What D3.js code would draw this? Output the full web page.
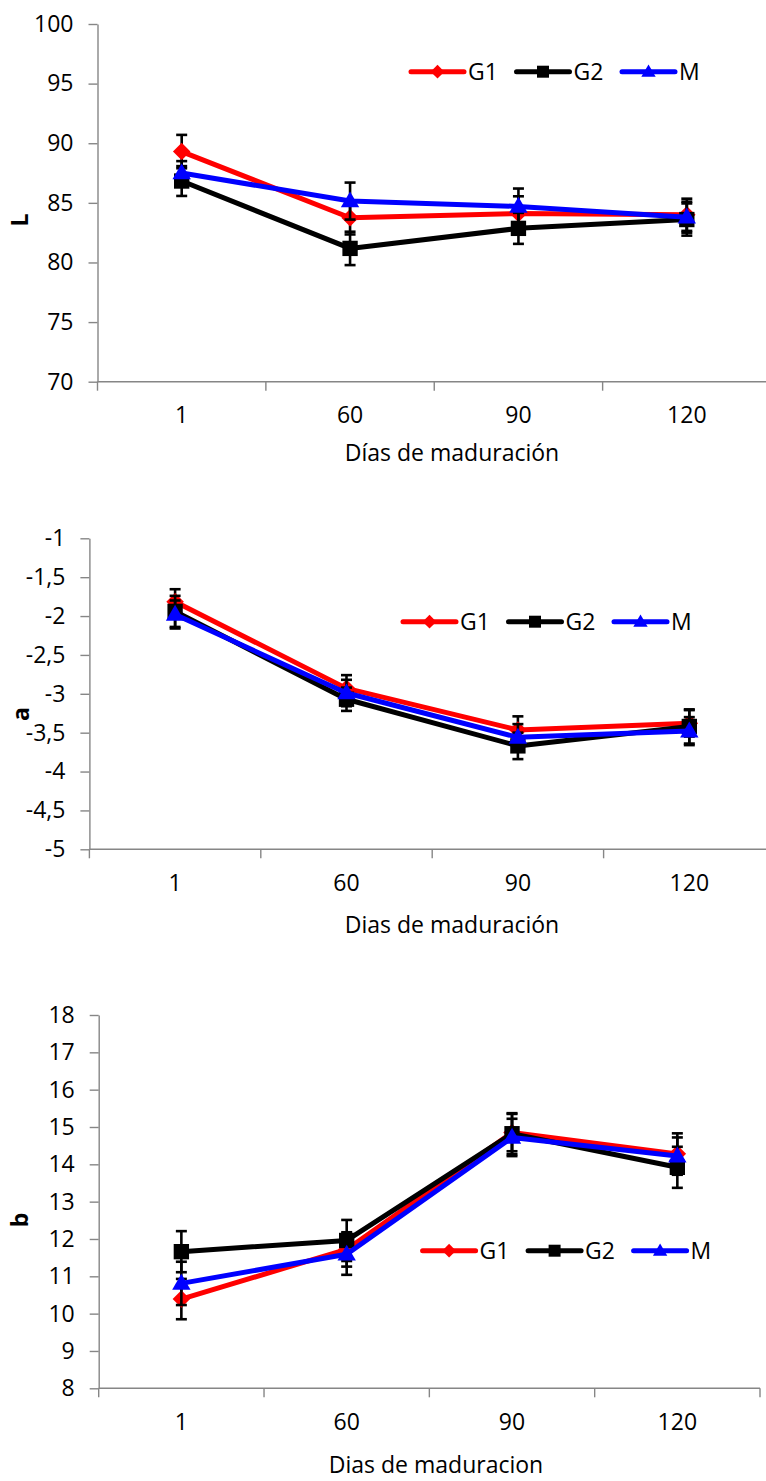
<!DOCTYPE html>
<html>
<head>
<meta charset="utf-8">
<script src="https://cdn.jsdelivr.net/npm/d3@7"></script>
<style>
  body { margin: 0; background: #fff; }
  svg text { font-family: "Open Sans", "Liberation Sans", sans-serif; fill: #000; }
</style>
</head>
<body>
<svg id="chart"></svg>
<script>
// categories (dias de maduracion) and series names
var days = ["1", "60", "90", "120"];
var seriesNames = ["G1", "G2", "M"];

// L
var L_G1 = [89.3, 83.75, 84.1, 84.0];
var L_G2 = [86.83, 81.18, 82.86, 83.6];
var L_M = [87.5, 85.15, 84.7, 83.8];
var L_G1_err = [1.4, 1.4, 1.45, 1.35];
var L_G2_err = [1.25, 1.4, 1.3, 1.35];
var L_M_err = [1.0, 1.55, 1.5, 1.3];

// a
var a_G1 = [-1.815, -2.93, -3.465, -3.38];
var a_G2 = [-1.94, -3.07, -3.67, -3.42];
var a_M = [-1.98, -2.99, -3.56, -3.48];
var a_G1_err = [0.16, 0.17, 0.175, 0.17];
var a_G2_err = [0.2, 0.15, 0.17, 0.22];
var a_M_err = [0.18, 0.17, 0.17, 0.18];

// b
var b_G1 = [10.39, 11.72, 14.85, 14.28];
var b_G2 = [11.66, 11.96, 14.82, 13.92];
var b_M = [10.81, 11.59, 14.72, 14.22];
var b_G1_err = [0.54, 0.46, 0.5, 0.55];
var b_G2_err = [0.55, 0.55, 0.55, 0.55];
var b_M_err = [0.58, 0.55, 0.5, 0.5];

var width = 766, height = 1481;
var fontSize = 23;

var colors = {G1: "#ff0000", G2: "#000000", M: "#0000ff"};
var symbols = {G1: "diamond", G2: "square", M: "triangle"};

var locale = d3.formatLocale({decimal: ",", thousands: ".", grouping: [3], currency: ["", ""], minus: "-"});
var fmt = locale.format("");

var svg = d3.select("#chart")
    .attr("width", width)
    .attr("height", height);

// one entry per chart panel (layout only)
var panels = [
  {title: "L", xTitle: "Días de maduración", domain: [70, 100], step: 5,
   vals: [L_G1, L_G2, L_M], errs: [L_G1_err, L_G2_err, L_M_err],
   x0: 97.5, x1: 771, top: 24, bottom: 381.7,
   titleX: 20, titleY: 220, xTitleX: 452, xTitleY: 453,
   legX: 411, legY: 71.7},
  {title: "a", xTitle: "Dias de maduración", domain: [-5, -1], step: 0.5,
   vals: [a_G1, a_G2, a_M], errs: [a_G1_err, a_G2_err, a_M_err],
   x0: 89.4, x1: 775, top: 538.3, bottom: 849.3,
   titleX: 21, titleY: 714, xTitleX: 452, xTitleY: 925,
   legX: 403, legY: 621.7},
  {title: "b", xTitle: "Dias de maduracion", domain: [8, 18], step: 1,
   vals: [b_G1, b_G2, b_M], errs: [b_G1_err, b_G2_err, b_M_err],
   x0: 98.7, x1: 760, top: 1015, bottom: 1388.3,
   titleX: 20, titleY: 1220, xTitleX: 436, xTitleY: 1465,
   legX: 422.6, legY: 1250.7}
];

function drawMarker(g, kind, cx, cy, s, color) {
  var m = g.append("path").attr("fill", color);
  if (kind == "diamond") {
    m.attr("d", d3.symbol(d3.symbolSquare, s * s * 0.6)())
     .attr("transform", "translate(" + cx + "," + cy + ") rotate(45)");
  } else if (kind == "square") {
    m.attr("d", d3.symbol(d3.symbolSquare, s * s * 0.92)())
     .attr("transform", "translate(" + cx + "," + cy + ")");
  } else {
    var w = s * 1.15;
    m.attr("d", d3.symbol(d3.symbolTriangle, Math.sqrt(3) / 4 * w * w)())
     .attr("transform", "translate(" + cx + "," + (cy + 1) + ")");
  }
}

panels.forEach(function(p) {
  var g = svg.append("g");

  var x = d3.scaleBand().domain(days).range([p.x0, p.x1]).padding(0);
  var y = d3.scaleLinear().domain(p.domain).range([p.bottom, p.top]);
  var cx = function(i) { return x(days[i]) + x.bandwidth() / 2; };

  // y axis
  var yAxis = g.append("g")
      .attr("transform", "translate(" + p.x0 + ",0)")
      .call(d3.axisLeft(y)
        .tickValues(d3.range(p.domain[0], p.domain[1] + p.step / 2, p.step))
        .tickSize(9).tickSizeOuter(0).tickPadding(15)
        .tickFormat(fmt));
  yAxis.select(".domain").attr("stroke", "#868686").attr("stroke-width", 1.4);
  yAxis.selectAll(".tick line").attr("stroke", "#868686").attr("stroke-width", 1.4);
  yAxis.selectAll(".tick text").attr("font-size", fontSize).attr("fill", "#000");

  // x axis: line + ticks at category boundaries, labels centred
  var xAxis = g.append("g")
      .attr("transform", "translate(0," + p.bottom + ")")
      .call(d3.axisBottom(x).tickSize(0).tickPadding(25));
  xAxis.select(".domain").remove();
  xAxis.selectAll(".tick text").attr("font-size", fontSize).attr("fill", "#000");
  g.append("line")
      .attr("x1", p.x0).attr("x2", p.x1)
      .attr("y1", p.bottom).attr("y2", p.bottom)
      .attr("stroke", "#868686").attr("stroke-width", 1.4);
  var bounds = days.map(function(d) { return x(d); }).concat([p.x1]);
  g.selectAll(".xtick").data(bounds).enter().append("line")
      .attr("x1", function(d) { return d; }).attr("x2", function(d) { return d; })
      .attr("y1", p.bottom).attr("y2", p.bottom + 9)
      .attr("stroke", "#868686").attr("stroke-width", 1.4);

  // axis titles
  g.append("text")
      .attr("transform", "translate(" + p.titleX + "," + p.titleY + ") rotate(-90)")
      .attr("text-anchor", "middle").attr("dy", "0.35em")
      .attr("font-size", fontSize).attr("font-weight", "bold")
      .text(p.title);
  g.append("text")
      .attr("x", p.xTitleX).attr("y", p.xTitleY)
      .attr("text-anchor", "middle").attr("dy", "0.35em")
      .attr("font-size", fontSize)
      .text(p.xTitle);

  // series: line, error bars, markers
  var line = d3.line()
      .x(function(d, i) { return cx(i); })
      .y(function(d) { return y(d); });

  seriesNames.forEach(function(name, k) {
    var vals = p.vals[k], errs = p.errs[k];
    var sg = g.append("g");
    sg.append("path")
        .datum(vals)
        .attr("d", line)
        .attr("fill", "none")
        .attr("stroke", colors[name])
        .attr("stroke-width", 5)
        .attr("stroke-linejoin", "round");

    vals.forEach(function(v, i) {
      var e = errs[i];
      var xi = cx(i);
      sg.append("line")
          .attr("x1", xi).attr("x2", xi)
          .attr("y1", y(v - e)).attr("y2", y(v + e))
          .attr("stroke", "#000").attr("stroke-width", 2.6);
      [v - e, v + e].forEach(function(c) {
        sg.append("line")
            .attr("x1", xi - 5.5).attr("x2", xi + 5.5)
            .attr("y1", y(c)).attr("y2", y(c))
            .attr("stroke", "#000").attr("stroke-width", 2.6);
      });
    });

    vals.forEach(function(v, i) {
      drawMarker(sg, symbols[name], cx(i), y(v), 16, colors[name]);
    });
  });

  // legend
  var lg = g.append("g").attr("transform", "translate(" + p.legX + "," + p.legY + ")");
  seriesNames.forEach(function(name, k) {
    var ox = k * 105.5;
    lg.append("line")
        .attr("x1", ox).attr("x2", ox + 53)
        .attr("y1", 0).attr("y2", 0)
        .attr("stroke", colors[name]).attr("stroke-width", 5)
        .attr("stroke-linecap", "round");
    drawMarker(lg, symbols[name], ox + 26.5, 0, 12.5, colors[name]);
    lg.append("text")
        .attr("x", ox + 57).attr("y", 0).attr("dy", "0.36em")
        .attr("font-size", fontSize)
        .text(name);
  });
});
</script>
</body>
</html>
